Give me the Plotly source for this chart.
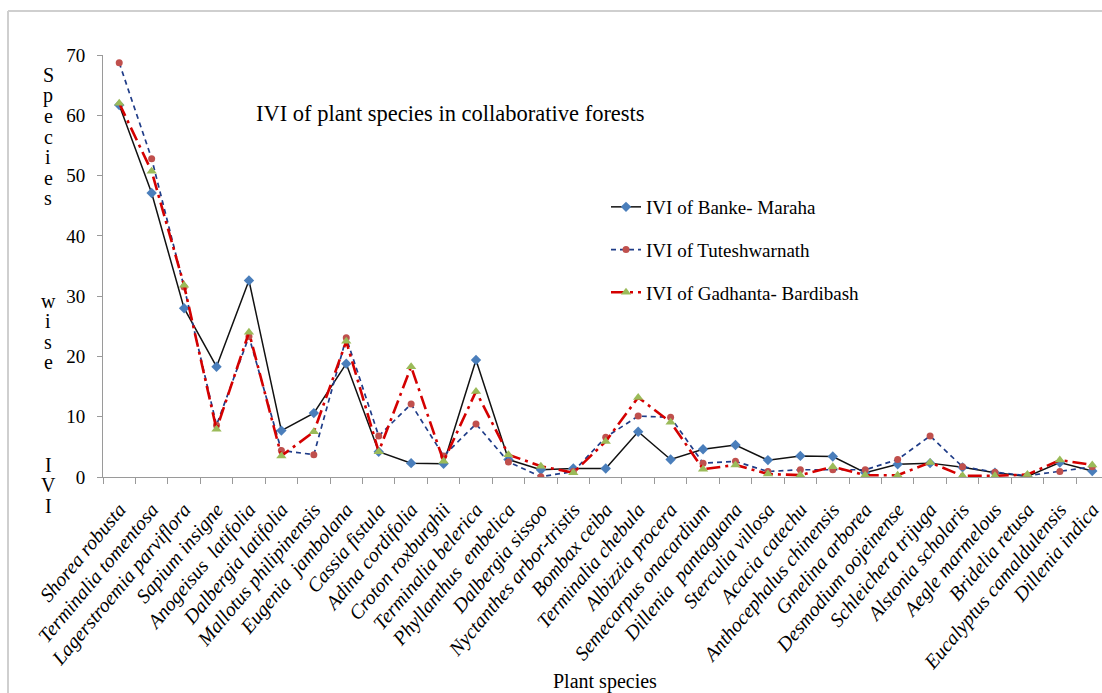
import plotly.graph_objects as go

# Species along the x axis
species = [
    "Shorea robusta", "Terminalia tomentosa", "Lagerstroemia parviflora",
    "Sapium insigne", "Anogeisus  latifolia", "Dalbergia latifolia",
    "Mallotus philipinensis", "Eugenia  jambolana", "Cassia fistula",
    "Adina cordifolia", "Croton roxburghii", "Terminalia belerica",
    "Phyllanthus  embelica", "Dalbergia sissoo", "Nyctanthes arbor-tristis",
    "Bombax ceiba", "Terminalia chebula", "Albizzia procera",
    "Semecarpus onacardium", "Dillenia  pantaguana", "Sterculia villosa",
    "Acacia catechu", "Anthocephalus chinensis", "Gmelina arborea",
    "Desmodium oojeinense", "Schleichera trijuga", "Alstonia scholaris",
    "Aegle marmelous", "Bridelia retusa", "Eucalyptus camaldulensis",
    "Dillenia indica",
]

# IVI values per forest
ivi_banke = [61.7, 47.1, 28.0, 18.3, 32.6, 7.7, 10.6, 18.8, 4.2, 2.3,
             2.2, 19.4, 2.9, 1.2, 1.4, 1.4, 7.5, 2.9, 4.6, 5.3,
             2.8, 3.5, 3.4, 0.7, 2.1, 2.3, 1.6, 0.7, 0.1, 2.4, 1.0]
ivi_tute = [68.7, 52.8, 31.5, 8.6, 23.3, 4.4, 3.7, 23.1, 6.8, 12.1,
            3.5, 8.8, 2.5, 0.05, 0.9, 6.6, 10.1, 9.9, 2.3, 2.6,
            0.9, 1.2, 1.2, 1.2, 2.9, 6.8, 1.7, 0.8, 0.2, 0.9, 1.7]
ivi_gadh = [62.0, 50.7, 31.8, 7.9, 24.0, 3.5, 7.5, 22.5, 4.2, 18.3,
            2.6, 14.2, 3.7, 1.8, 0.7, 5.9, 13.2, 9.1, 1.3, 2.0,
            0.5, 0.3, 1.7, 0.3, 0.3, 2.4, 0.2, 0.2, 0.4, 2.8, 2.0]

series_names = ["IVI of Banke- Maraha", "IVI of Tuteshwarnath",
                "IVI of Gadhanta- Bardibash"]
title_text = "IVI of plant species in collaborative forests"
y_title = "Species  wise  IVI"
x_title = "Plant species"
y_ticks = [0, 10, 20, 30, 40, 50, 60, 70]

SERIF = "Liberation Serif, Times New Roman, serif"
AXIS_GREY = "#9a9a9a"

fig = go.Figure()
fig.add_trace(go.Scatter(
    x=species, y=ivi_banke, name=series_names[0], legendgroup="a",
    mode="lines+markers",
    line=dict(color="#111111", width=1.5),
    marker=dict(symbol="diamond", size=8, color="#4a7ebb"),
))
fig.add_trace(go.Scatter(
    x=species, y=ivi_tute, name=series_names[1], legendgroup="b",
    mode="lines+markers",
    line=dict(color="#1f3c88", width=1.7, dash="5px,4px"),
    marker=dict(symbol="circle", size=7, color="#c0504d"),
))
fig.add_trace(go.Scatter(
    x=species, y=ivi_gadh, name=series_names[2], legendgroup="c",
    mode="lines+markers",
    line=dict(color="#d40000", width=2.6, dash="14px,5px,3px,5px"),
    marker=dict(symbol="triangle-up", size=9, color="#9bbb59"),
))

# plot-area geometry in pixels (used to place free text)
L, T, W, H = 103, 55, 999, 422
def px(xp):
    return (xp - L) / W
def py(yp):
    return (T + H - yp) / H

annotations = [
    dict(text=title_text, x=px(450), y=py(113), xref="paper", yref="paper",
         showarrow=False, xanchor="center", yanchor="middle",
         font=dict(family=SERIF, size=22.5, color="#000")),
    dict(text=x_title, x=px(605), y=py(681), xref="paper", yref="paper",
         showarrow=False, xanchor="center", yanchor="middle",
         font=dict(family=SERIF, size=20, color="#000")),
]
# vertical, letter-by-letter y axis title
for i, ch in enumerate(y_title.replace("  ", "    ")):
    if ch == " ":
        continue
    annotations.append(dict(
        text=ch, x=px(48), y=py(75 + 20.5 * i), xref="paper", yref="paper",
        showarrow=False, xanchor="center", yanchor="middle",
        font=dict(family=SERIF, size=20, color="#000")))

fig.update_layout(
    width=1102, height=693,
    margin=dict(l=L, r=1102 - L - W, t=T, b=693 - T - H),
    paper_bgcolor="white", plot_bgcolor="white",
    showlegend=True,
    legend=dict(x=px(606), y=py(188), xanchor="left", yanchor="top",
                font=dict(family=SERIF, size=19, color="#000"),
                tracegroupgap=15, itemwidth=30, bgcolor="rgba(0,0,0,0)"),
    annotations=annotations,
    shapes=[
        dict(type="line", xref="paper", yref="paper",
             x0=px(8), x1=px(1110), y0=py(11), y1=py(11),
             line=dict(color="#cfcfcf", width=2)),
        dict(type="line", xref="paper", yref="paper",
             x0=px(8), x1=px(8), y0=py(11), y1=py(700),
             line=dict(color="#cfcfcf", width=2)),
    ],
    xaxis=dict(
        type="category", range=[-0.5, 30.3],
        showline=True, linecolor=AXIS_GREY, linewidth=1,
        ticks="outside", tickson="boundaries", ticklen=6,
        tickcolor=AXIS_GREY, showgrid=False, zeroline=False,
        tickangle=-50, ticklabelstandoff=12,
        tickfont=dict(family=SERIF, size=20, color="#000", style="italic"),
    ),
    yaxis=dict(
        range=[0, 70], tickvals=y_ticks,
        showline=True, linecolor=AXIS_GREY, linewidth=1,
        ticks="outside", ticklen=5, tickcolor=AXIS_GREY,
        showgrid=False, zeroline=False, ticklabelstandoff=8,
        tickfont=dict(family=SERIF, size=19, color="#000"),
    ),
)

fig.write_html("out.html")
